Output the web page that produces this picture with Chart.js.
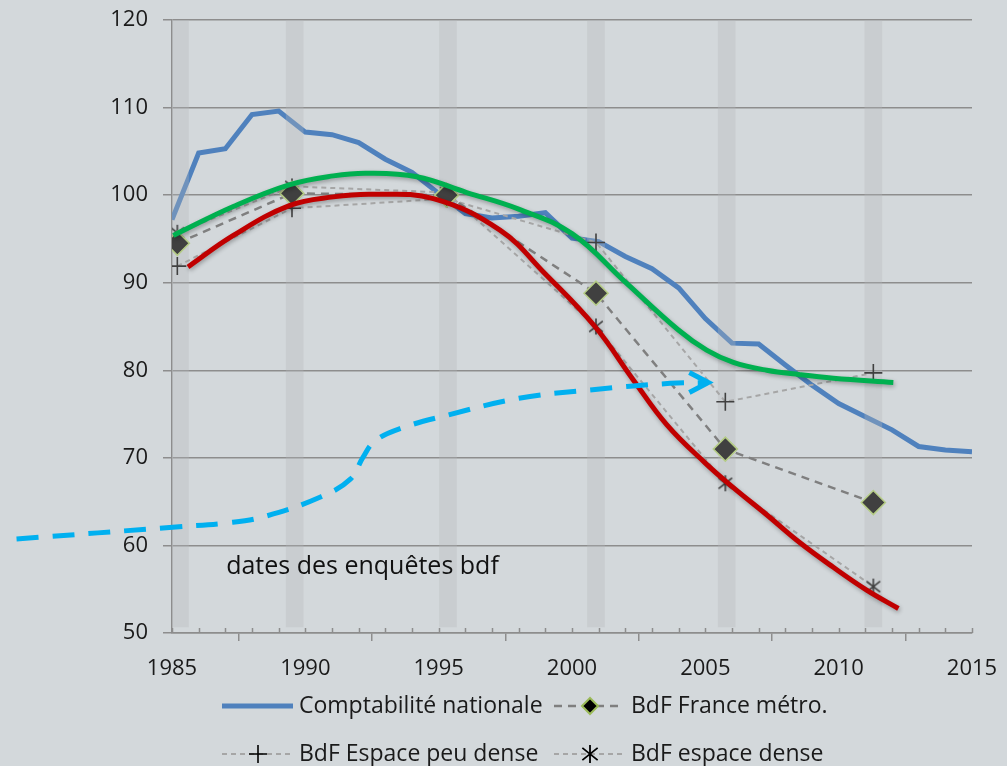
<!DOCTYPE html>
<html>
<head>
<meta charset="utf-8">
<script src="https://cdn.jsdelivr.net/npm/chart.js@4/dist/chart.umd.min.js"></script>
<style>
    html, body { margin: 0; padding: 0; background: #d3d8db; }
    #wrap { width: 1007px; height: 766px; }
</style>
</head>
<body>
<div id="wrap"><canvas id="chart" width="1007" height="766"></canvas></div>
<script>
// Comptabilite nationale, une valeur par an (1985-2015)
var cnYears = [1985, 1986, 1987, 1988, 1989, 1990, 1991, 1992, 1993, 1994, 1995, 1996, 1997, 1998, 1999, 2000,
    2001, 2002, 2003, 2004, 2005, 2006, 2007, 2008, 2009, 2010, 2011, 2012, 2013, 2014, 2015];
var cnValues = [97.2, 104.8, 105.3, 109.2, 109.6, 107.2, 106.9, 106.0, 104.1, 102.6, 100.2, 97.9, 97.4, 97.6, 98.0, 95.1,
    94.7, 93.0, 91.6, 89.4, 85.9, 83.1, 83.0, 80.6, 78.3, 76.2, 74.7, 73.2, 71.3, 70.9, 70.7];

// Enquetes Budget de famille (BdF)
var surveyYears = [1985.2, 1989.5, 1995.3, 2000.9, 2005.75, 2011.3];
var bdfFrance = [94.5, 100.2, 100.0, 88.8, 71.0, 64.9];
var bdfPeuDense = [91.9, 98.5, 99.6, 94.6, 76.4, 79.7];
var bdfDense = [95.7, 101.0, 100.3, 85.0, 67.1, 55.3];

// Bandes grises : dates des enquetes
var bandYears = [1985.3, 1989.6, 1995.35, 2000.9, 2005.8, 2011.3];
var bandFrom = 50.7;
var bandTo = 120;

// Courbes lissees (verte et rouge)
var greenX = [1985.05, 1987.3, 1989.42, 1991.05, 1992.3, 1994.18, 1996.05, 1998.0, 2000.0, 2001.99,
    2003.99, 2005.05, 2006.05, 2007.3, 2008.55, 2009.8, 2012.05];
var greenY = [95.4, 98.7, 101.2, 102.2, 102.5, 102.1, 100.3, 98.4, 95.6, 90.1,
    84.6, 82.3, 80.9, 80.0, 79.5, 79.1, 78.6];
var redX = [1985.6, 1987.3, 1989.4, 1991.05, 1992.5, 1994.8, 1997.3, 1999.0, 2000.86, 2002.3, 2003.55,
    2005.0, 2006.05, 2007.3, 2008.55, 2009.8, 2011.05, 2012.24];
var redY = [91.8, 95.4, 98.8, 99.8, 100.1, 99.6, 96.0, 91.0, 85.0, 78.9, 73.8,
    69.4, 66.6, 63.5, 60.3, 57.5, 54.9, 52.8];

// Fleche en pointilles bleus
var arrowX = [1979.17, 1985.26, 1987.03, 1988.45, 1990.59, 1991.7, 1992.15, 1992.6, 1993.59, 1995.35,
    1998.01, 2000.68, 2003.68, 2005.0];
var arrowY = [60.73, 62.14, 62.56, 63.28, 65.56, 67.6, 70.0, 71.9, 73.38, 74.89,
    76.80, 77.75, 78.51, 78.6];

// Graduations
var xTickYears = [1985, 1990, 1995, 2000, 2005, 2010, 2015];
var yTickValues = [50, 60, 70, 80, 90, 100, 110, 120];

var FONT = "'Open Sans', sans-serif";
var GRID = '#8d8d8d';
var MARK = '#404040';

function pts(xs, ys) {
    return xs.map(function (x, i) { return { x: x, y: ys[i] }; });
}

// Marqueur "etoile" facon Excel : croix en X + trait vertical
function makeStar(r, color, lw) {
    var c = document.createElement('canvas');
    var s = Math.ceil(2 * r + 4);
    c.width = s; c.height = s;
    var g = c.getContext('2d');
    var m = s / 2, d = r * 0.85;
    g.strokeStyle = color;
    g.lineWidth = lw;
    g.beginPath();
    g.moveTo(m - d, m - d * 0.8); g.lineTo(m + d, m + d * 0.8);
    g.moveTo(m + d, m - d * 0.8); g.lineTo(m - d, m + d * 0.8);
    g.moveTo(m, m - r); g.lineTo(m, m + r);
    g.stroke();
    return c;
}
var starImg = makeStar(8, MARK, 1.6);

// Ombre legere sous les courbes verte et rouge
var shadowPlugin = {
    id: 'shadow',
    beforeDatasetDraw: function (chart, args) {
        var ds = chart.data.datasets[args.index];
        chart.ctx.save();
        if (ds.shadow) {
            chart.ctx.shadowColor = 'rgba(0,0,0,0.3)';
            chart.ctx.shadowBlur = 4;
            chart.ctx.shadowOffsetX = 1;
            chart.ctx.shadowOffsetY = 2;
        }
    },
    afterDatasetDraw: function (chart) {
        chart.ctx.restore();
    }
};

// Petites graduations annuelles sur l'axe des x
var minorTicksPlugin = {
    id: 'minorTicks',
    beforeDatasetsDraw: function (chart) {
        var c = chart.ctx, sx = chart.scales.x, bottom = chart.chartArea.bottom;
        c.save();
        c.strokeStyle = GRID;
        c.lineWidth = 1.5;
        c.beginPath();
        for (var yr = sx.min; yr <= sx.max; yr++) {
            var px = Math.round(sx.getPixelForValue(yr)) + 0.5;
            c.moveTo(px, bottom);
            c.lineTo(px, bottom - 5);
        }
        c.stroke();
        c.restore();
    }
};

// Pointe de la fleche + texte "dates des enquetes bdf"
var annotationPlugin = {
    id: 'annotations',
    afterDatasetsDraw: function (chart) {
        var c = chart.ctx;
        var meta = chart.getDatasetMeta(7);
        var last = meta.data[meta.data.length - 1];
        c.save();
        c.strokeStyle = '#00b0f0';
        c.lineWidth = 5;
        c.lineJoin = 'miter';
        c.beginPath();
        c.moveTo(last.x - 16, last.y - 10);
        c.lineTo(last.x + 3, last.y);
        c.lineTo(last.x - 16, last.y + 10);
        c.stroke();

        c.fillStyle = '#111';
        c.font = '25px ' + FONT;
        c.textBaseline = 'alphabetic';
        c.textAlign = 'left';
        c.fillText('dates des enquêtes bdf', chart.scales.x.getPixelForValue(1987.03), chart.scales.y.getPixelForValue(56.75));
        c.restore();
    }
};

// Legende en bas (deux lignes, deux colonnes)
var legendPlugin = {
    id: 'bottomLegend',
    afterDraw: function (chart) {
        var c = chart.ctx, a = chart.chartArea;
        var row1 = a.bottom + 73, row2 = a.bottom + 121;
        var c1 = a.left + 50, c2 = a.left + 382;

        function seg(x0, x1, y, color, w, dash) {
            c.save();
            c.strokeStyle = color;
            c.lineWidth = w;
            c.setLineDash(dash);
            c.beginPath();
            c.moveTo(x0, y);
            c.lineTo(x1, y);
            c.stroke();
            c.restore();
        }
        function label(text, x, y) {
            c.save();
            c.fillStyle = '#1a1a1a';
            c.font = '23px ' + FONT;
            c.textBaseline = 'middle';
            c.textAlign = 'left';
            c.fillText(text, x, y);
            c.restore();
        }

        // Comptabilite nationale
        seg(c1, c1 + 71, row1, '#4f81bd', 5, []);
        label('Comptabilité nationale', c1 + 77, row1);

        // BdF France metro.
        seg(c2, c2 + 70, row1, '#7f7f7f', 2.5, [8, 6]);
        c.save();
        c.fillStyle = '#000';
        c.strokeStyle = '#9bbb59';
        c.lineWidth = 2;
        c.beginPath();
        c.moveTo(c2 + 36 - 8, row1);
        c.lineTo(c2 + 36, row1 - 8);
        c.lineTo(c2 + 36 + 8, row1);
        c.lineTo(c2 + 36, row1 + 8);
        c.closePath();
        c.fill();
        c.stroke();
        c.restore();
        label('BdF France métro.', c2 + 77, row1);

        // BdF Espace peu dense
        seg(c1, c1 + 70, row2, '#a6a6a6', 2, [5, 4]);
        c.save();
        c.strokeStyle = '#000';
        c.lineWidth = 1.6;
        c.beginPath();
        c.moveTo(c1 + 36 - 9, row2); c.lineTo(c1 + 36 + 9, row2);
        c.moveTo(c1 + 36, row2 - 9); c.lineTo(c1 + 36, row2 + 9);
        c.stroke();
        c.restore();
        label('BdF Espace peu dense', c1 + 77, row2);

        // BdF espace dense
        seg(c2, c2 + 70, row2, '#a6a6a6', 2, [5, 4]);
        var big = makeStar(9, '#000', 1.8);
        c.drawImage(big, c2 + 36 - big.width / 2, row2 - big.height / 2);
        label('BdF espace dense', c2 + 77, row2);
    }
};

var lineBase = { pointRadius: 0, pointHoverRadius: 0, fill: false };

new Chart(document.getElementById('chart'), {
    type: 'line',
    data: {
        datasets: [
            Object.assign({}, lineBase, {
                label: 'Comptabilité nationale',
                data: pts(cnYears, cnValues),
                borderColor: '#4f81bd',
                borderWidth: 5,
                tension: 0,
                order: 10
            }),
            {
                type: 'bar',
                label: 'dates des enquêtes bdf',
                data: bandYears.map(function (x) { return { x: x, y: [bandFrom, bandTo] }; }),
                backgroundColor: 'rgba(180,184,188,0.32)',
                borderWidth: 0,
                barThickness: 17,
                grouped: false,
                order: 9
            },
            Object.assign({}, lineBase, {
                label: 'BdF espace dense',
                data: pts(surveyYears, bdfDense),
                borderColor: '#a6a6a6',
                borderWidth: 2,
                borderDash: [5, 4],
                pointRadius: 9,
                pointStyle: starImg,
                order: 8
            }),
            Object.assign({}, lineBase, {
                label: 'BdF Espace peu dense',
                data: pts(surveyYears, bdfPeuDense),
                borderColor: '#a6a6a6',
                borderWidth: 2,
                borderDash: [5, 4],
                pointRadius: 9,
                pointStyle: 'cross',
                pointBorderColor: MARK,
                pointBorderWidth: 1.6,
                order: 7
            }),
            Object.assign({}, lineBase, {
                label: 'BdF France métro.',
                data: pts(surveyYears, bdfFrance),
                borderColor: '#7f7f7f',
                borderWidth: 2.5,
                borderDash: [8, 6],
                pointRadius: 12,
                pointStyle: 'rectRot',
                pointBackgroundColor: MARK,
                pointBorderColor: '#b5cc86',
                pointBorderWidth: 1.6,
                order: 6
            }),
            Object.assign({}, lineBase, {
                label: 'tendance verte',
                data: pts(greenX, greenY),
                borderColor: '#00b050',
                borderWidth: 5,
                tension: 0.4,
                shadow: true,
                order: 5
            }),
            Object.assign({}, lineBase, {
                label: 'tendance rouge',
                data: pts(redX, redY),
                borderColor: '#c00000',
                borderWidth: 5,
                tension: 0.4,
                shadow: true,
                order: 4
            }),
            Object.assign({}, lineBase, {
                label: 'fleche',
                data: pts(arrowX, arrowY),
                borderColor: '#00b0f0',
                borderWidth: 5,
                borderDash: [22, 14],
                tension: 0.4,
                clip: false,
                order: 3
            })
        ]
    },
    options: {
        responsive: false,
        animation: false,
        events: [],
        layout: { padding: { top: 20, right: 35, left: 0, bottom: 0 } },
        plugins: {
            legend: { display: false },
            tooltip: { enabled: false }
        },
        scales: {
            x: {
                type: 'linear',
                min: 1985,
                max: 2015,
                offset: false,
                afterBuildTicks: function (s) { s.ticks = xTickYears.map(function (v) { return { value: v }; }); },
                afterFit: function (s) {
                    s.height = 133;
                    s.paddingLeft = 0;
                    s.paddingRight = 0;
                },
                ticks: {
                    font: { family: FONT, size: 22 },
                    color: '#1a1a1a',
                    padding: 15,
                    maxRotation: 0,
                    autoSkip: false,
                    callback: function (v) { return String(v); }
                },
                grid: { drawOnChartArea: false, tickLength: 8, color: GRID, lineWidth: 1.5 },
                border: { color: GRID, width: 1.5 }
            },
            y: {
                min: 50,
                max: 120,
                afterBuildTicks: function (s) { s.ticks = yTickValues.map(function (v) { return { value: v }; }); },
                afterFit: function (s) {
                    s.width = 172;
                    s.paddingTop = 0;
                    s.paddingBottom = 0;
                },
                ticks: {
                    font: { family: FONT, size: 22 },
                    color: '#1a1a1a',
                    padding: 15
                },
                grid: { color: GRID, lineWidth: 1.5, tickLength: 9 },
                border: { color: GRID, width: 1.5 }
            }
        }
    },
    plugins: [shadowPlugin, minorTicksPlugin, annotationPlugin, legendPlugin]
});
</script>
</body>
</html>
